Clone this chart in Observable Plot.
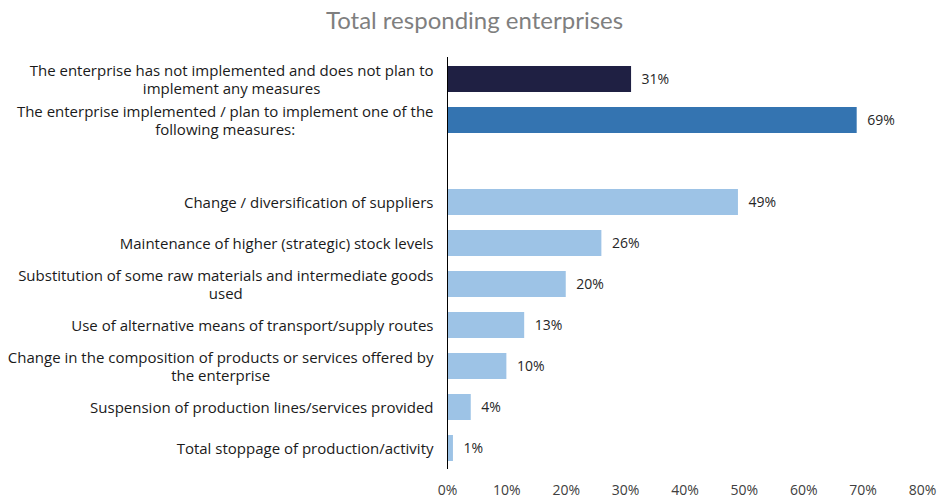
<!DOCTYPE html>
<html>
<head>
<meta charset="utf-8">
<script src="https://cdn.jsdelivr.net/npm/d3@7"></script>
<script src="https://cdn.jsdelivr.net/npm/@observablehq/plot@0.6"></script>
<style>
  html, body { margin: 0; padding: 0; background: #fff; }
  #title { height: 45px; width: 939px; text-align: center; font-family: Lato, "Open Sans", sans-serif;
           font-size: 24px; color: #7f7f7f; line-height: 40px; padding-left: 10px; box-sizing: border-box; }
  #chart svg { display: block; }
</style>
</head>
<body>
<div id="title">Total responding enterprises</div>
<div id="chart"></div>
<script>
const categories = [
  "The enterprise has not implemented and does not plan to\nimplement any measures",
  "The enterprise implemented / plan to implement one of the\nfollowing measures:",
  "",
  "Change / diversification of suppliers",
  "Maintenance of higher (strategic) stock levels",
  "Substitution of some raw materials and intermediate goods\nused",
  "Use of alternative means of transport/supply routes",
  "Change in the composition of products or services offered by\nthe enterprise",
  "Suspension of production lines/services provided",
  "Total stoppage of production/activity"
];
const values = [0.31, 0.69, null, 0.49, 0.26, 0.20, 0.13, 0.10, 0.04, 0.01];
const groups = ["none", "any", null, "m", "m", "m", "m", "m", "m", "m"];
const xTicks = [0, 0.1, 0.2, 0.3, 0.4, 0.5, 0.6, 0.7, 0.8];

const ids = categories.map((c, i) => "r" + i);
const rows = categories.map((c, i) => ({id: ids[i], label: c, value: values[i], group: groups[i]}));
const bars = rows.filter(d => d.value != null);

const plot = Plot.plot({
  width: 939,
  height: 457,
  marginLeft: 447,
  marginRight: 17,
  marginTop: 12,
  marginBottom: 33,
  style: {fontFamily: "'Open Sans', Lato, sans-serif", fontSize: "14px", color: "#262626", background: "#fff"},
  x: {domain: [0, 0.8], ticks: xTicks, tickFormat: d3.format(".0%"), label: null},
  y: {domain: ids, paddingInner: 0.37, paddingOuter: 0.185, axis: null},
  color: {domain: ["none", "any", "m"], range: ["#1f2043", "#3474b1", "#9dc3e6"]},
  marks: [
    Plot.axisX({ticks: xTicks, tickFormat: d3.format(".0%"), tickSize: 0, tickPadding: 16, fontSize: 14, fill: "#404040", anchor: "bottom", label: null}),
    Plot.barX(bars, {x: "value", y: "id", fill: "group"}),
    Plot.ruleX([0], {stroke: "#000", strokeWidth: 1}),
    Plot.text(bars, {x: "value", y: "id", text: d => d3.format(".0%")(d.value), textAnchor: "start", dx: 10, fontSize: 14, fill: "#262626"}),
    Plot.text(rows.filter(d => d.label !== ""), {y: "id", text: "label", frameAnchor: "left", textAnchor: "end", dx: -14, lineHeight: 1.2, fontSize: 15, fill: "#1a1a1a"})
  ]
});
document.getElementById("chart").append(plot);

// centre the lines of each multi-line label within its right-aligned block
plot.querySelectorAll("text").forEach(t => {
  const spans = t.querySelectorAll("tspan");
  if (spans.length < 2) return;
  let w = 0;
  spans.forEach(s => { w = Math.max(w, s.getComputedTextLength()); });
  t.setAttribute("text-anchor", "middle");
  t.style.textAnchor = "middle";
  spans.forEach(s => s.setAttribute("x", -w / 2));
});
</script>
</body>
</html>
